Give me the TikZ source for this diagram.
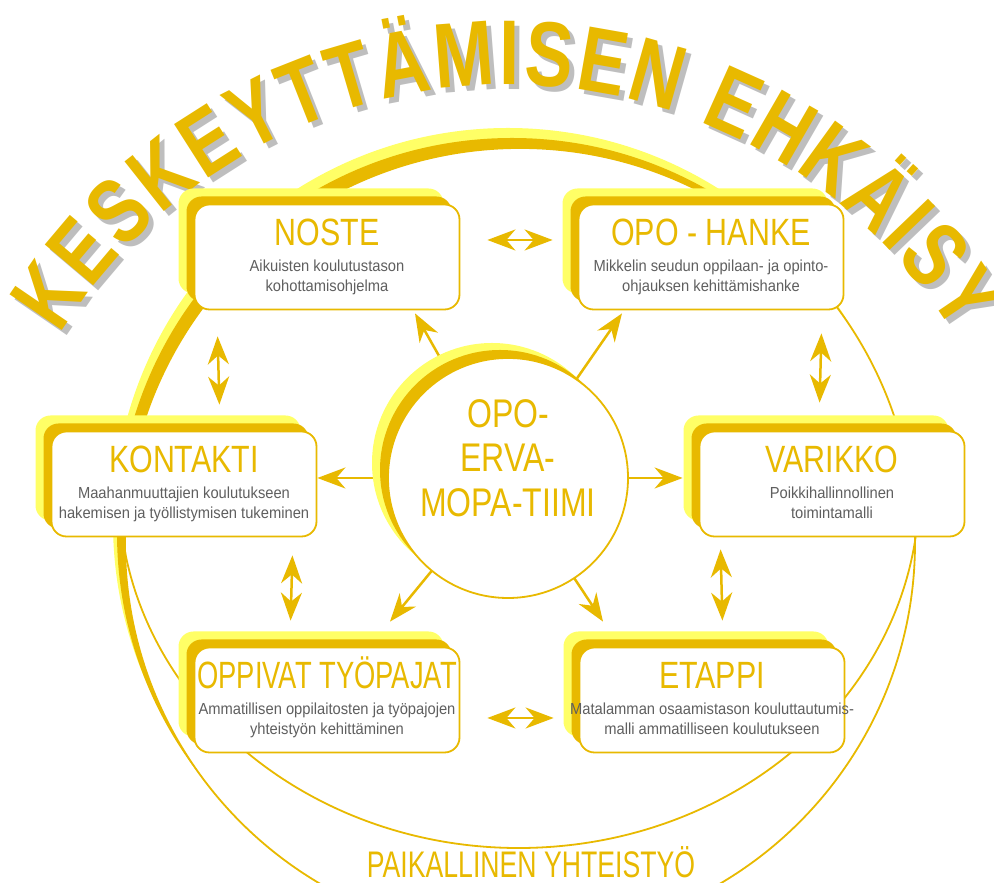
\documentclass[tikz,border=0pt]{standalone}
\usepackage{fontspec}
\setmainfont{Liberation Sans}
\newfontfamily\narrowsf{Liberation Sans}[FakeStretch=0.72]
\newfontfamily\headsf{Liberation Sans}[FakeStretch=0.8]
\newfontfamily\descsf{Liberation Sans}[FakeStretch=0.92]
\newfontfamily\archead{Liberation Sans}[FakeStretch=0.78]
\usetikzlibrary{arrows.meta,calc,shadows,decorations.text}
\definecolor{gold}{RGB}{232,185,0}
\definecolor{lightyel}{RGB}{255,255,102}
\definecolor{txtgray}{RGB}{95,95,95}
\definecolor{shadegray}{RGB}{190,190,190}

\begin{document}
\begin{tikzpicture}
  [
    x=1pt, y=1pt,
    >={Stealth[length=28pt,width=21pt,inset=9pt]},
    link/.style={gold, line width=2.5pt},
    ring/.style={circle, draw=gold, line width=1.8pt, fill=white, inner sep=0pt},
    prog/.style={draw=gold, line width=1.8pt, fill=white, rounded corners=15pt,
      minimum width=265pt, minimum height=105pt,
      general shadow={fill=lightyel, shadow xshift=-16pt, shadow yshift=16pt},
      general shadow={fill=gold, shadow xshift=-8pt, shadow yshift=8pt}},
    ttl/.style={gold, font=\headsf\fontsize{38}{40}\selectfont, anchor=base, inner sep=0pt},
    desc/.style={txtgray, font=\descsf\fontsize{16}{19.5}\selectfont, align=center, anchor=north, inner sep=0pt}
  ]
  \useasboundingbox (0,0) rectangle (994,883);

  % heading on the arc, grey copy first
  \foreach \dx/\dy/\col in {5/-5/shadegray, 0/0/gold}{
    \path [shift={(\dx,\dy)}, decorate, decoration={text along path, text align={fit to path}, text color=\col,
      text={|\archead\bfseries\fontsize{92}{92}\selectfont|KESKEYTTÄMISEN EHKÄISY}}]
      (507,273) ++(148.4:525) arc [start angle=148.4, end angle=31.5, radius=525];
  }

  \node [ring, minimum size=790pt,
    general shadow={fill=lightyel, shadow xshift=-12pt, shadow yshift=20pt},
    general shadow={fill=gold, shadow xshift=-8pt, shadow yshift=10pt}] (yhteis) at (520,340) {};
  \draw [gold, line width=1.8pt] (519,393) ++(5:400 and 358)
    arc [start angle=5, end angle=-174, x radius=400, y radius=358];
  \node [gold, font=\narrowsf\fontsize{37}{37}\selectfont, anchor=base, inner sep=0pt] (yhteis-t) at (531,5) {PAIKALLINEN YHTEISTYÖ};

  \foreach \nm/\px/\py/\head/\la/\lb in {
    noste/327/626/NOSTE/Aikuisten koulutustason/kohottamisohjelma,
    opo/711/626/OPO - HANKE/Mikkelin seudun oppilaan- ja opinto-/ohjauksen kehittämishanke,
    kontakti/184/399/KONTAKTI/Maahanmuuttajien koulutukseen/hakemisen ja työllistymisen tukeminen,
    varikko/832/399/VARIKKO/Poikkihallinnollinen/toimintamalli,
    oppivat/327/183/{\narrowsf OPPIVAT TYÖPAJAT}/Ammatillisen oppilaitosten ja työpajojen/yhteistyön kehittäminen,
    etappi/712/183/ETAPPI/Matalamman osaamistason kouluttautumis-/malli ammatilliseen koulutukseen}{
    \node [prog] (\nm) at (\px,\py) {};
    \node [ttl] (\nm-t) at ([yshift=11pt]\nm.center) {\head};
    \node [desc] (\nm-d) at ([yshift=-3pt]\nm.center) {\la\\\lb};
  }

  \coordinate (mid) at (508,405);
  \draw [link, ->] (mid) -- ([xshift=88pt,yshift=-3pt]noste.south);
  \draw [link, ->] (mid) -- ([xshift=-89pt,yshift=-3pt]opo.south);
  \draw [link, ->] (mid) -- (kontakti.east |- mid);
  \draw [link, ->] (mid) -- ($(varikko.west |- mid)+(-16,0)$);
  \draw [link, ->] (mid) -- ([xshift=63pt,yshift=25pt]oppivat.north);
  \draw [link, ->] (mid) -- ([xshift=-109pt,yshift=25pt]etappi.north);

  \node [ring, minimum size=240pt,
    general shadow={fill=lightyel, shadow xshift=-16pt, shadow yshift=15pt},
    general shadow={fill=gold, shadow xshift=-8pt, shadow yshift=8pt}] (tiimi) at (mid) {};
  \node [gold, font=\headsf\fontsize{40}{44.5}\selectfont, align=center, inner sep=0pt] (tiimi-t) at (508,425) {OPO-\\ERVA-\\MOPA-TIIMI};

  \draw [link, <->] ([xshift=27pt,yshift=17pt]noste.east) -- ([xshift=-25pt,yshift=17pt]opo.west);
  \draw [link, <->] ([xshift=27pt,yshift=-18pt]oppivat.east) -- ([xshift=-25pt,yshift=-18pt]etappi.west);
  \draw [link, <->] ([xshift=24pt,yshift=-26pt]noste.south west) -- ([xshift=-98pt,yshift=26pt]kontakti.north east);
  \draw [link, <->] ([xshift=-23pt,yshift=-23pt]opo.south east) -- ([xshift=121pt,yshift=28pt]varikko.north west);
  \draw [link, <->] ([xshift=-25pt,yshift=-18pt]kontakti.south east) -- ([xshift=97pt,yshift=26pt]oppivat.north west);
  \draw [link, <->] ([xshift=22pt,yshift=-12pt]varikko.south west) -- ([xshift=-123pt,yshift=26pt]etappi.north east);

\end{tikzpicture}
\end{document}
